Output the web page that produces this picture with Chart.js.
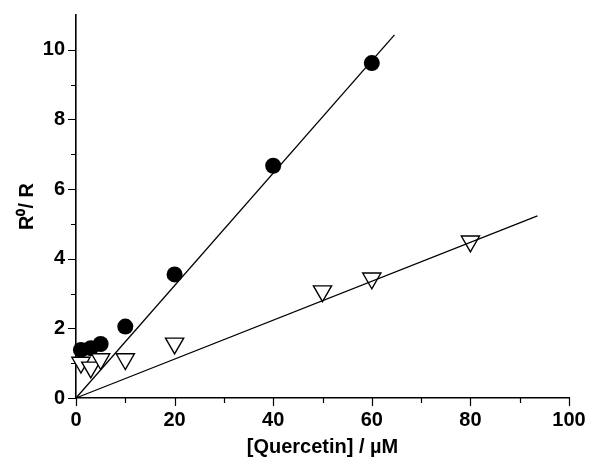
<!DOCTYPE html>
<html>
<head>
<meta charset="utf-8">
<script src="https://cdn.jsdelivr.net/npm/chart.js@4"></script>
<style>
  html, body { margin: 0; padding: 0; background: #fff; }
  #wrap { width: 590px; height: 465px; }
</style>
</head>
<body>
<div id="wrap"><canvas id="c"></canvas></div>
<script>
// filled circles
const circleX = [1, 3, 5, 10, 20, 40, 60];
const circleY = [1.38, 1.43, 1.55, 2.05, 3.55, 6.67, 9.62];

// open down-triangles
const triX = [1, 3, 5, 10, 20, 50, 60, 80];
const triY = [1.02, 0.88, 1.12, 1.12, 1.57, 3.07, 3.44, 4.5];

// linear fits through the origin (start / end points)
const fit1X = [0, 64.6];
const fit1Y = [0, 10.43];
const fit2X = [0, 93.6];
const fit2Y = [0, 5.23];

const xTicks = [0, 20, 40, 60, 80, 100];
const yTicks = [0, 2, 4, 6, 8, 10];

const pts = (xs, ys) => xs.map((x, i) => ({ x: x, y: ys[i] }));

const FONT = { family: "'Liberation Sans', Arial, sans-serif", size: 20, weight: "bold" };

// minor + major tick marks, drawn outward
const tickMarks = {
  id: "tickMarks",
  afterDraw(chart) {
    const ctx = chart.ctx;
    const xs = chart.scales.x, ys = chart.scales.y;
    ctx.save();
    ctx.strokeStyle = "#000";
    ctx.lineWidth = 1.2;
    ctx.beginPath();
    for (let v = 0; v <= 100; v += 10) {
      const px = Math.round(xs.getPixelForValue(v)) + 0.5;
      const len = xTicks.includes(v) ? 8 : 5;
      ctx.moveTo(px, xs.top);
      ctx.lineTo(px, xs.top + len);
    }
    for (let v = 0; v <= 10; v += 1) {
      const py = Math.round(ys.getPixelForValue(v)) + 0.5;
      const len = yTicks.includes(v) ? 8 : 5;
      ctx.moveTo(ys.right, py);
      ctx.lineTo(ys.right - len, py);
    }
    ctx.stroke();
    ctx.restore();
  }
};

new Chart(document.getElementById("c"), {
  type: "scatter",
  data: {
    datasets: [{
      label: "fit1",
      data: pts(fit1X, fit1Y),
      showLine: true,
      borderColor: "#000",
      borderWidth: 1.3,
      pointRadius: 0,
      clip: false
    }, {
      label: "fit2",
      data: pts(fit2X, fit2Y),
      showLine: true,
      borderColor: "#000",
      borderWidth: 1.3,
      pointRadius: 0,
      clip: false
    }, {
      label: "triangles",
      data: pts(triX, triY),
      pointStyle: "triangle",
      rotation: 180,
      pointRadius: 10.5,
      backgroundColor: "#fff",
      borderColor: "#000",
      borderWidth: 1.4,
      clip: false
    }, {
      label: "circles",
      data: pts(circleX, circleY),
      pointStyle: "circle",
      pointRadius: 8,
      backgroundColor: "#000",
      borderColor: "#000",
      borderWidth: 0,
      clip: false
    }]
  },
  options: {
    responsive: true,
    maintainAspectRatio: false,
    animation: false,
    devicePixelRatio: 1,
    layout: { padding: { top: 13, right: 21, left: 0, bottom: 0 } },
    plugins: { legend: { display: false }, tooltip: { enabled: false } },
    scales: {
      x: {
        type: "linear",
        min: 0, max: 100,
        afterFit(s) { s.height = 67; },
        border: { display: true, color: "#000", width: 1.6 },
        grid: { drawOnChartArea: false, tickLength: 8, tickColor: "rgba(0,0,0,0)" },
        ticks: {
          stepSize: 20, padding: 2, color: "#000", font: FONT,
          maxRotation: 0, autoSkip: false
        },
        title: {
          display: true, text: "[Quercetin] / \u00b5M", color: "#000", font: FONT,
          padding: { top: 0, bottom: 6 }
        }
      },
      y: {
        type: "linear",
        min: 0, max: 11,
        afterFit(s) { s.width = 76; },
        afterBuildTicks(s) { s.ticks = yTicks.map(v => ({ value: v })); },
        border: { display: true, color: "#000", width: 1.6 },
        grid: { drawOnChartArea: false, tickLength: 8, tickColor: "rgba(0,0,0,0)" },
        ticks: { padding: 3, color: "#000", font: FONT },
        title: {
          display: true, text: "R\u2070/ R", color: "#000", font: FONT,
          padding: { top: 15, bottom: 0 }
        }
      }
    }
  },
  plugins: [tickMarks]
});
</script>
</body>
</html>
